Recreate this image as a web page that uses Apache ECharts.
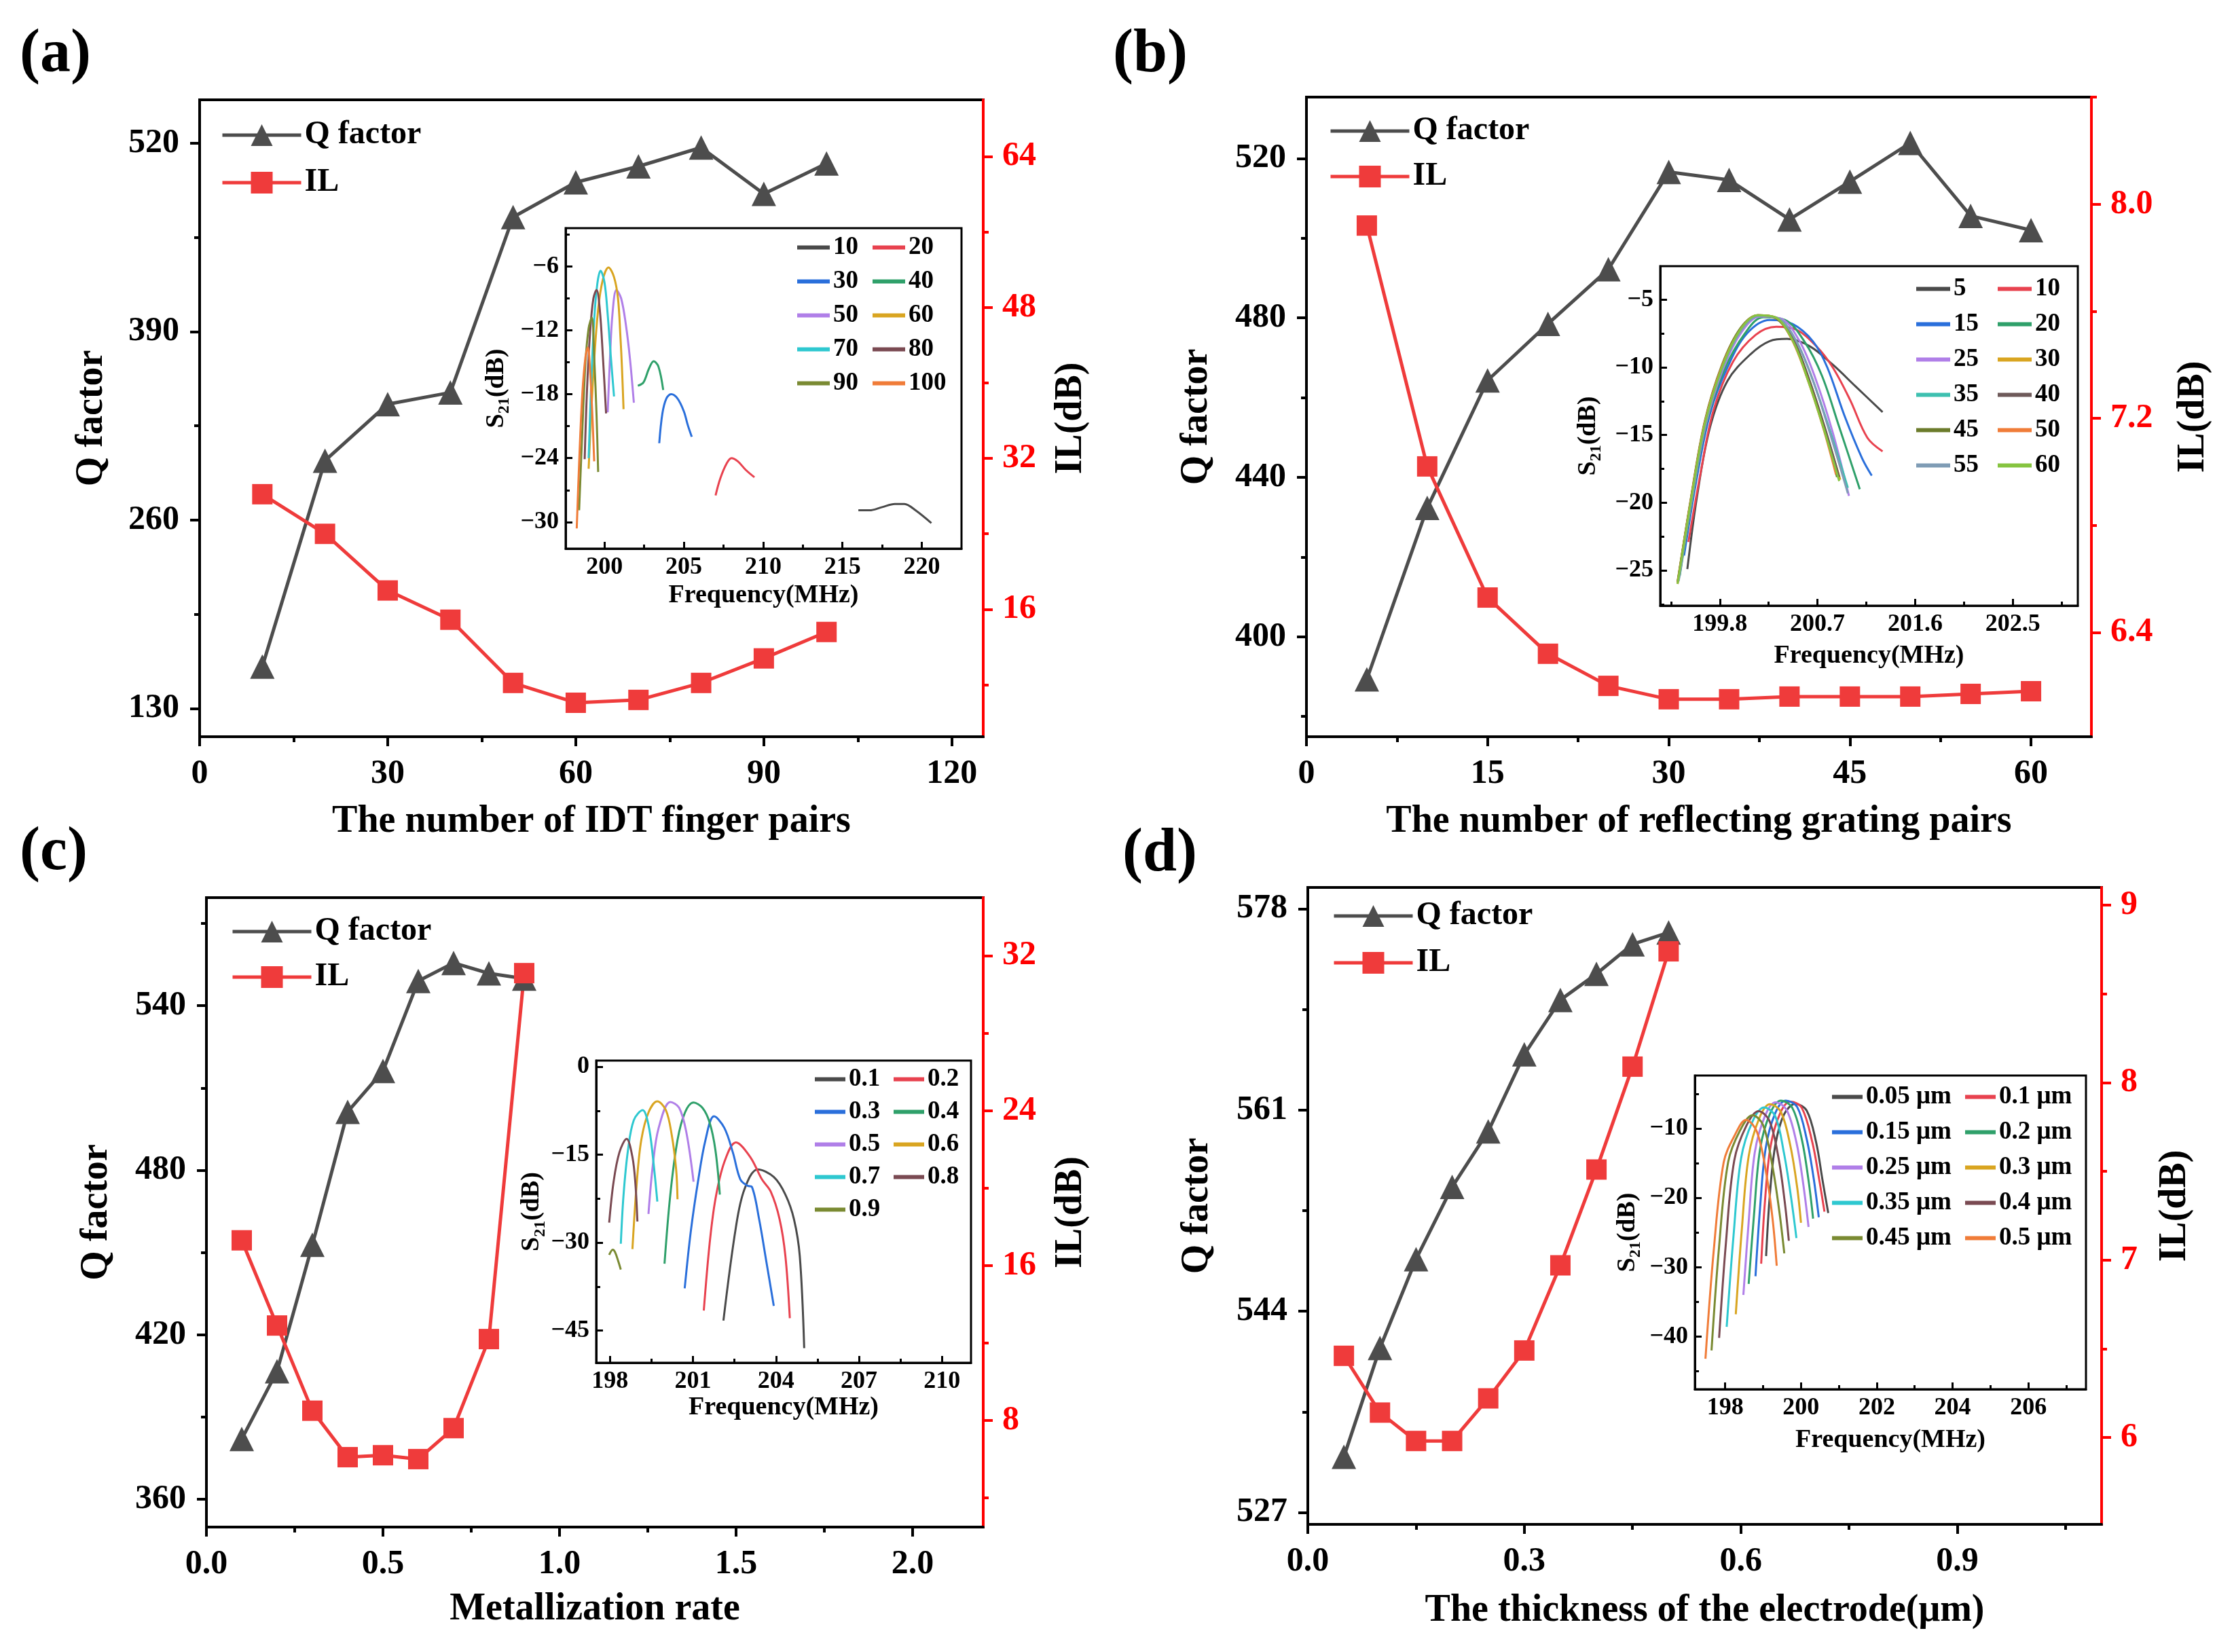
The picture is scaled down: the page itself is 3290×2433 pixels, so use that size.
<!DOCTYPE html>
<html>
<head>
<meta charset="utf-8">
<title>SAW resonator parameter study</title>
<script src="https://cdn.jsdelivr.net/npm/echarts@6/dist/echarts.min.js"></script>
<style>
  html, body { margin: 0; padding: 0; background: #fff; }
  #chart { width: 3290px; height: 2433px; }
</style>
</head>
<body>
<div id="chart"></div>
<script>
const FONT = 'Liberation Serif';
const GRAY = '#4d4d4d';
const RED = '#ef3b3b';
const AXIS_RED = '#ff0000';

// 曲线配色 (Origin 默认色板)
const palette = ['#4a4a4a', '#e8424f', '#2a6fdb', '#2fa06a', '#b07fe8', '#d9a521',
                 '#2ec8d0', '#7a4a52', '#7a8a32', '#f07c38', '#7f9cb5', '#86c440'];
const paletteB = ['#4a4a4a', '#e8424f', '#2a6fdb', '#2fa06a', '#b07fe8', '#d9a521',
                  '#3ec0b0', '#6e5a5a', '#6b7b2b', '#f07c38', '#7f9cb5', '#86c440'];

// ---------- (a) IDT 指对数 ----------
const idtPairs = [10, 20, 30, 40, 50, 60, 70, 80, 90, 100];
const idtQ = [159, 301, 340, 348, 469, 493, 504, 517, 485, 506];
const idtIL = [28.2, 24.0, 18.0, 14.9, 8.2, 6.1, 6.4, 8.2, 10.8, 13.6];
const idtTicksX = [0, 30, 60, 90, 120];
const idtTicksQ = [130, 260, 390, 520];
const idtTicksIL = [16, 32, 48, 64];
const idtCurveNames = ['10', '20', '30', '40', '50', '60', '70', '80', '90', '100'];
const idtCurves = [
  [[216.0, -28.9], [216.7, -28.9], [217.5, -28.6], [218.3, -28.3], [218.9, -28.3], [219.6, -28.9], [220.6, -30.1]],
  [[207.0, -27.5], [207.3, -25.9], [207.7, -24.5], [208.0, -24.0], [208.4, -24.3], [208.9, -25.1], [209.45, -25.8]],
  [[203.45, -22.6], [203.65, -19.8], [203.9, -18.4], [204.2, -18.0], [204.6, -18.4], [205.0, -19.6], [205.25, -20.9], [205.5, -22.0]],
  [[202.1, -17.2], [202.45, -16.9], [202.8, -15.6], [203.1, -14.9], [203.4, -15.4], [203.7, -17.6]],
  [[200.2, -19.7], [200.35, -14.5], [200.5, -10.5], [200.75, -8.2], [201.05, -9.0], [201.35, -11.5], [201.6, -14.6], [201.85, -18.8]],
  [[199.0, -25.0], [199.3, -16.0], [199.6, -10.0], [199.9, -7.2], [200.25, -6.1], [200.6, -7.0], [200.85, -9.0], [201.0, -12.5], [201.1, -15.5], [201.2, -19.4]],
  [[199.0, -24.0], [199.15, -17.5], [199.35, -11.0], [199.55, -7.6], [199.75, -6.4], [200.0, -7.5], [200.2, -10.5], [200.4, -14.5], [200.6, -18.2]],
  [[198.75, -24.1], [198.9, -17.5], [199.1, -12.0], [199.3, -9.0], [199.5, -8.2], [199.7, -10.0], [199.9, -14.5], [200.1, -19.8]],
  [[198.4, -28.9], [198.6, -21.5], [198.8, -15.0], [199.0, -11.8], [199.2, -10.8], [199.35, -14.5], [199.5, -20.0], [199.6, -25.3]],
  [[198.25, -30.6], [198.4, -24.5], [198.6, -18.0], [198.8, -14.5], [198.95, -13.6], [199.1, -16.0], [199.25, -20.5], [199.35, -24.3]]
];

// ---------- (b) 反射栅对数 ----------
const gratingPairs = [5, 10, 15, 20, 25, 30, 35, 40, 45, 50, 55, 60];
const gratingQ = [389.3, 432.3, 464.3, 478.5, 492.2, 516.6, 514.6, 504.7, 514.2, 523.9, 505.6, 502.0];
const gratingIL = [7.92, 7.02, 6.53, 6.32, 6.20, 6.15, 6.15, 6.16, 6.16, 6.16, 6.17, 6.18];
const gratingTicksX = [0, 15, 30, 45, 60];
const gratingTicksQ = [400, 440, 480, 520];
const gratingTicksIL = [6.4, 7.2, 8.0];
const gratingCurveNames = ['5', '10', '15', '20', '25', '30', '35', '40', '45', '50', '55', '60'];
const gratingCurves = [
  [[199.5, -24.9], [199.59, -19.5], [199.71, -14.4], [199.87, -11.0], [200.08, -9.05], [200.26, -8.06], [200.42, -7.9], [200.63, -8.45], [200.84, -9.8], [201.05, -11.4], [201.3, -13.3]],
  [[199.51, -22.9], [199.62, -17.9], [199.74, -13.2], [199.92, -9.6], [200.13, -7.6], [200.32, -7.0], [200.5, -7.2], [200.69, -8.45], [200.84, -10.0], [201.0, -12.4], [201.16, -15.2], [201.3, -16.2]],
  [[199.47, -23.9], [199.58, -18.5], [199.71, -13.4], [199.87, -10.0], [200.05, -7.5], [200.26, -6.5], [200.47, -6.8], [200.66, -8.1], [200.79, -10.0], [200.95, -13.6], [201.11, -16.7], [201.2, -18.0]],
  [[199.43, -25.4], [199.55, -19.5], [199.68, -14.0], [199.84, -10.2], [200.03, -7.5], [200.2, -6.3], [200.4, -6.5], [200.58, -8.1], [200.74, -10.6], [200.9, -14.4], [201.09, -19.0]],
  [[199.42, -25.6], [199.54, -19.8], [199.67, -14.2], [199.83, -10.1], [200.0, -7.4], [200.17, -6.25], [200.36, -6.4], [200.53, -8.0], [200.68, -10.8], [200.84, -14.8], [200.99, -19.5]],
  [[199.41, -25.8], [199.53, -19.9], [199.66, -14.2], [199.82, -10.0], [199.99, -7.3], [200.15, -6.2], [200.32, -6.4], [200.48, -8.0], [200.62, -10.9], [200.77, -14.6], [200.91, -18.3]],
  [[199.42, -25.7], [199.54, -19.7], [199.67, -14.0], [199.83, -9.9], [200.0, -7.2], [200.16, -6.2], [200.34, -6.4], [200.5, -8.0], [200.65, -10.8], [200.82, -14.8], [200.98, -18.9]],
  [[199.41, -25.9], [199.53, -19.9], [199.66, -14.1], [199.82, -9.9], [199.99, -7.2], [200.15, -6.15], [200.32, -6.35], [200.48, -8.0], [200.62, -10.8], [200.77, -14.5], [200.9, -18.1]],
  [[199.41, -25.9], [199.53, -19.8], [199.66, -14.0], [199.82, -9.8], [199.99, -7.1], [200.15, -6.15], [200.31, -6.35], [200.47, -8.0], [200.61, -10.8], [200.76, -14.5], [200.88, -18.1]],
  [[199.41, -26.0], [199.53, -19.9], [199.66, -14.1], [199.82, -9.9], [199.99, -7.2], [200.15, -6.15], [200.31, -6.3], [200.46, -7.9], [200.6, -10.7], [200.75, -14.4], [200.87, -17.9]],
  [[199.42, -25.8], [199.54, -19.8], [199.67, -14.1], [199.83, -9.9], [200.0, -7.2], [200.16, -6.2], [200.34, -6.4], [200.5, -8.0], [200.66, -11.0], [200.82, -15.0], [200.98, -19.3]],
  [[199.41, -26.0], [199.53, -20.0], [199.66, -14.2], [199.82, -10.0], [199.99, -7.2], [200.15, -6.15], [200.31, -6.3], [200.47, -8.0], [200.61, -10.9], [200.76, -14.6], [200.9, -18.4]]
];

// ---------- (c) 金属化率 ----------
const metalRate = [0.1, 0.2, 0.3, 0.4, 0.5, 0.6, 0.7, 0.8, 0.9];
const metalQ = [382.0, 406.7, 452.8, 501.3, 516.2, 549.0, 555.6, 551.8, 549.9];
const metalIL = [17.3, 12.9, 8.5, 6.1, 6.2, 6.0, 7.6, 12.2, 31.1];
const metalTicksX = [0, 0.5, 1.0, 1.5, 2.0];
const metalTicksQ = [360, 420, 480, 540];
const metalTicksIL = [8, 16, 24, 32];
const metalCurveNames = ['0.1', '0.2', '0.3', '0.4', '0.5', '0.6', '0.7', '0.8', '0.9'];
const metalCurves = [
  [[202.1, -43.3], [202.55, -27.4], [202.86, -20.9], [203.34, -17.5], [203.92, -18.8], [204.34, -21.8], [204.65, -26.0], [204.86, -32.3], [205.02, -48.0]],
  [[201.39, -41.6], [201.6, -30.2], [201.81, -22.6], [202.13, -16.3], [202.55, -12.9], [203.07, -15.4], [203.49, -19.2], [203.81, -21.3], [204.13, -26.0], [204.34, -32.3], [204.5, -42.9]],
  [[200.7, -37.8], [200.92, -28.1], [201.18, -19.6], [201.45, -12.5], [201.76, -8.45], [202.13, -10.4], [202.44, -14.6], [202.71, -19.2], [202.97, -20.3], [203.13, -20.5], [203.39, -26.0], [203.65, -33.2], [203.92, -40.8]],
  [[199.97, -33.6], [200.18, -21.8], [200.44, -12.5], [200.71, -7.8], [201.02, -6.1], [201.34, -7.0], [201.6, -9.5], [201.81, -14.2], [201.97, -21.8]],
  [[199.39, -25.1], [199.55, -16.7], [199.76, -10.4], [200.18, -6.0], [200.5, -7.0], [200.76, -11.2], [201.02, -19.6]],
  [[198.81, -31.1], [198.97, -19.6], [199.13, -12.5], [199.39, -7.8], [199.71, -5.9], [200.02, -7.4], [200.23, -11.6], [200.39, -17.5], [200.44, -22.6]],
  [[198.39, -30.2], [198.49, -21.8], [198.65, -14.2], [198.86, -9.1], [199.18, -7.4], [199.39, -9.9], [199.55, -15.4], [199.71, -23.0]],
  [[197.97, -26.6], [198.13, -19.6], [198.34, -14.6], [198.6, -12.3], [198.81, -15.4], [198.92, -20.1], [198.99, -26.4]],
  [[197.97, -32.1], [198.1, -31.2], [198.18, -31.6], [198.3, -33.2], [198.39, -34.6]]
];

// ---------- (d) 电极厚度 ----------
const thickness = [0.05, 0.1, 0.15, 0.2, 0.25, 0.3, 0.35, 0.4, 0.45, 0.5];
const thickQ = [531.7, 540.9, 548.4, 554.5, 559.2, 565.7, 570.3, 572.5, 575.0, 576.0];
const thickIL = [6.46, 6.14, 5.98, 5.98, 6.22, 6.49, 6.97, 7.51, 8.09, 8.74];
const thickTicksX = [0, 0.3, 0.6, 0.9];
const thickTicksQ = [527, 544, 561, 578];
const thickTicksIL = [6, 7, 8, 9];
const thickCurveNames = ['0.05 μm', '0.1 μm', '0.15 μm', '0.2 μm', '0.25 μm', '0.3 μm', '0.35 μm', '0.4 μm', '0.45 μm', '0.5 μm'];
const thickCurves = [
  [[199.08, -28.4], [199.18, -19.5], [199.32, -12.5], [199.55, -8.0], [199.85, -6.46], [200.15, -7.4], [200.4, -12.0], [200.57, -17.5], [200.72, -22.2]],
  [[198.95, -29.5], [199.05, -20.5], [199.2, -12.5], [199.45, -7.8], [199.72, -6.14], [200.02, -7.0], [200.3, -12.0], [200.47, -17.0], [200.62, -22.0]],
  [[198.8, -31.3], [198.92, -21.5], [199.07, -12.8], [199.32, -7.8], [199.6, -5.98], [199.9, -6.9], [200.15, -11.5], [200.33, -17.0], [200.47, -22.8]],
  [[198.62, -32.4], [198.76, -22.5], [198.92, -13.0], [199.18, -7.9], [199.47, -5.98], [199.77, -7.0], [200.02, -11.5], [200.2, -17.5], [200.32, -23.0]],
  [[198.48, -34.0], [198.62, -23.5], [198.78, -13.5], [199.05, -8.2], [199.33, -6.22], [199.62, -7.3], [199.88, -12.0], [200.06, -18.0], [200.2, -24.2]],
  [[198.28, -36.8], [198.44, -24.5], [198.62, -14.0], [198.9, -8.5], [199.18, -6.49], [199.47, -7.6], [199.72, -12.5], [199.9, -18.5], [200.0, -23.6]],
  [[198.04, -38.6], [198.22, -25.5], [198.42, -14.3], [198.72, -9.0], [199.03, -6.97], [199.32, -8.2], [199.55, -13.5], [199.74, -20.0], [199.88, -25.8]],
  [[197.84, -40.2], [198.02, -26.5], [198.24, -14.6], [198.56, -9.6], [198.88, -7.51], [199.16, -8.8], [199.4, -14.0], [199.57, -20.5], [199.68, -26.2]],
  [[197.64, -42.0], [197.84, -27.0], [198.08, -14.8], [198.4, -10.2], [198.72, -8.09], [199.0, -9.5], [199.25, -15.5], [199.43, -22.0], [199.56, -28.0]],
  [[197.48, -43.2], [197.7, -27.5], [197.96, -14.9], [198.25, -11.0], [198.55, -8.74], [198.84, -10.5], [199.1, -17.0], [199.26, -23.5], [199.36, -29.8]]
];

// 次刻度 (两个主刻度之间一个)
function midTicks(ticks, lo, hi) {
  const step = ticks[1] - ticks[0];
  const out = [];
  for (let v = ticks[0] - step / 2; v < hi; v += step) {
    if (v > lo) out.push(+v.toFixed(4));
  }
  return out;
}

function txt(size, color) {
  return { fontFamily: FONT, fontWeight: 'bold', fontSize: size, color: color || '#000' };
}

const minus = v => String(v).replace('-', '\u2212');
const fixed1 = v => (+v).toFixed(1);

var option = {
  backgroundColor: '#fff',
  animation: false,
  title: [],
  legend: [],
  grid: [],
  xAxis: [],
  yAxis: [],
  series: []
};

/*
* 主刻度轴 + 次刻度轴
*/
function axisPair(o) {
  const common = { gridIndex: o.grid, type: 'value', position: o.position, min: o.min, max: o.max, splitLine: { show: false } };
  const major = Object.assign({}, common, {
    axisLine: { show: true, onZero: false, lineStyle: { color: o.color, width: o.lw } },
    axisTick: { show: true, inside: o.inside, length: o.tick, customValues: o.majors, lineStyle: { color: o.color, width: o.lw } },
    axisLabel: Object.assign({ show: true, customValues: o.majors, margin: o.margin, formatter: o.fmt || minus }, txt(o.fs, o.labelColor || '#000')),
    name: o.name,
    nameLocation: 'middle',
    nameGap: o.nameGap,
    nameTextStyle: o.nameStyle
  });
  if (o.nameRotate !== undefined) major.nameRotate = o.nameRotate;
  const minor = Object.assign({}, common, {
    axisLine: { show: false, onZero: false },
    axisTick: { show: true, inside: o.inside, length: Math.round(o.tick * 0.6), customValues: midTicks(o.majors, o.min, o.max), lineStyle: { color: o.color, width: o.lw } },
    axisLabel: { show: false }
  });
  return [major, minor];
}

function mainPanel(label, labelPos, box, xo, qo, ilo, leg, xs, qs, ils) {
  const g = option.grid.length;
  option.title.push({ text: label, left: labelPos[0], top: labelPos[1], padding: 0, textStyle: txt(90) });
  option.grid.push({ left: box[0], top: box[1], width: box[2], height: box[3], show: true, borderColor: '#000', borderWidth: 4 });

  const base = { grid: g, color: '#000', lw: 4, tick: 14, inside: false, fs: 50, margin: 30, nameStyle: txt(56) };
  const xi = option.xAxis.length;
  option.xAxis.push(...axisPair(Object.assign({}, base, { position: 'bottom' }, xo)));
  const yi = option.yAxis.length;
  option.yAxis.push(...axisPair(Object.assign({}, base, { position: 'left', nameRotate: 90, name: 'Q factor' }, qo)));
  option.yAxis.push(...axisPair(Object.assign({}, base, { position: 'right', nameRotate: 90, name: 'IL(dB)', color: AXIS_RED, labelColor: AXIS_RED, margin: 28 }, ilo)));

  option.series.push({
    type: 'line', name: 'Q factor', xAxisIndex: xi, yAxisIndex: yi,
    data: xs.map((x, i) => [x, qs[i]]),
    symbol: 'triangle', symbolSize: 36,
    lineStyle: { color: GRAY, width: 5 }, itemStyle: { color: GRAY }
  });
  option.series.push({
    type: 'line', name: 'IL', xAxisIndex: xi, yAxisIndex: yi + 2,
    data: xs.map((x, i) => [x, ils[i]]),
    symbol: 'rect', symbolSize: 30,
    lineStyle: { color: RED, width: 5 }, itemStyle: { color: RED }
  });
  option.legend.push({
    data: ['Q factor', 'IL'], orient: 'vertical', left: leg[0], top: leg[1], itemGap: leg[2],
    itemWidth: 116, itemHeight: 40, padding: 0, selectedMode: false, textStyle: txt(48),
    lineStyle: { width: 5 }
  });
}

function insetPanel(tag, box, xo, yo, leg, names, curves, colors) {
  const g = option.grid.length;
  option.grid.push({ left: box[0], top: box[1], width: box[2], height: box[3], show: true, backgroundColor: '#fff', borderColor: '#000', borderWidth: 3 });

  const base = { grid: g, color: '#000', lw: 3, tick: 10, inside: true, fs: 36, margin: 10 };
  const xi = option.xAxis.length;
  option.xAxis.push(...axisPair(Object.assign({}, base, { position: 'bottom', name: 'Frequency(MHz)', nameStyle: txt(38) }, xo)));
  const yi = option.yAxis.length;
  option.yAxis.push(...axisPair(Object.assign({}, base, {
    position: 'left', nameRotate: 90, name: '{s|S}{b|21}{s|(dB)}',
    nameStyle: { rich: { s: Object.assign({ lineHeight: 48 }, txt(38)), b: Object.assign({ lineHeight: 24, verticalAlign: 'bottom' }, txt(24)) } }
  }, yo)));

  const full = names.map(n => tag + '|' + n);
  curves.forEach(function (c, i) {
    option.series.push({
      type: 'line', name: full[i], xAxisIndex: xi, yAxisIndex: yi, data: c,
      symbol: 'none', smooth: 0.35,
      lineStyle: { color: colors[i], width: 3 }, itemStyle: { color: colors[i] }
    });
  });
  [0, 1].forEach(function (col) {
    option.legend.push({
      data: full.filter((n, i) => i % 2 === col), orient: 'vertical',
      left: leg[col], top: leg[2], itemGap: leg[3], itemWidth: leg[4], itemHeight: 6,
      icon: 'rect', padding: 0, selectedMode: false, textStyle: txt(37),
      formatter: n => n.split('|')[1]
    });
  });
}

// (a)
mainPanel('(a)', [29, 37], [294, 147, 1154, 938],
  { min: 0, max: 125, majors: idtTicksX, name: 'The number of IDT finger pairs', nameGap: 98 },
  { min: 110.6, max: 549.9, majors: idtTicksQ, nameGap: 130 },
  { min: 2.5, max: 70.0, majors: idtTicksIL, nameGap: 102 },
  [325, 175, 22], idtPairs, idtQ, idtIL);

// (b)
mainPanel('(b)', [1639, 37], [1924, 143, 1156, 942],
  { min: 0, max: 65, majors: gratingTicksX, name: 'The number of reflecting grating pairs', nameGap: 98 },
  { min: 374.9, max: 535.4, majors: gratingTicksQ, nameGap: 133 },
  { min: 6.01, max: 8.40, majors: gratingTicksIL, nameGap: 123, fmt: fixed1 },
  [1957, 169, 19], gratingPairs, gratingQ, gratingIL);

// (c)
mainPanel('(c)', [29, 1212], [304, 1322, 1144, 927],
  { min: 0, max: 2.2, majors: metalTicksX, name: 'Metallization rate', nameGap: 94, fmt: fixed1 },
  { min: 349.9, max: 579.4, majors: metalTicksQ, nameGap: 133 },
  { min: 2.49, max: 35.0, majors: metalTicksIL, nameGap: 102 },
  [340, 1348, 19], metalRate, metalQ, metalIL);

// (d)
mainPanel('(d)', [1653, 1214], [1926, 1307, 1169, 938],
  { min: 0, max: 1.1, majors: thickTicksX, name: 'The thickness of the electrode(μm)', nameGap: 100, fmt: fixed1 },
  { min: 526, max: 579.8, majors: thickTicksQ, nameGap: 134 },
  { min: 5.51, max: 9.1, majors: thickTicksIL, nameGap: 81 },
  [1962, 1325, 21], thickness, thickQ, thickIL);

// 插图
insetPanel('a', [833, 336, 583, 472],
  { min: 197.55, max: 222.5, majors: [200, 205, 210, 215, 220], nameGap: 50 },
  { min: -32.5, max: -2.4, majors: [-30, -24, -18, -12, -6], nameGap: 78 },
  [1174, 1285, 346, 13, 48], idtCurveNames, idtCurves, palette);

insetPanel('b', [2445, 392, 615, 500],
  { min: 199.25, max: 203.1, majors: [199.8, 200.7, 201.6, 202.5], nameGap: 55 },
  { min: -27.6, max: -2.53, majors: [-25, -20, -15, -10, -5], nameGap: 82 },
  [2822, 2942, 407, 15, 50], gratingCurveNames, gratingCurves, paletteB);

insetPanel('c', [878, 1562, 552, 445],
  { min: 197.5, max: 211.05, majors: [198, 201, 204, 207, 210], nameGap: 45 },
  { min: -50.5, max: 1.06, majors: [-45, -30, -15, 0], nameGap: 63 },
  [1200, 1316, 1571, 11, 45], metalCurveNames, metalCurves, palette);

insetPanel('d', [2496, 1584, 576, 462],
  { min: 197.2, max: 207.52, majors: [198, 200, 202, 204, 206], nameGap: 56 },
  { min: -47.6, max: -2.36, majors: [-40, -30, -20, -10], nameGap: 75 },
  [2698, 2894, 1597, 15, 45], thickCurveNames, thickCurves, palette);

var myChart = echarts.init(document.getElementById('chart'));
myChart.setOption(option);
</script>
</body>
</html>
